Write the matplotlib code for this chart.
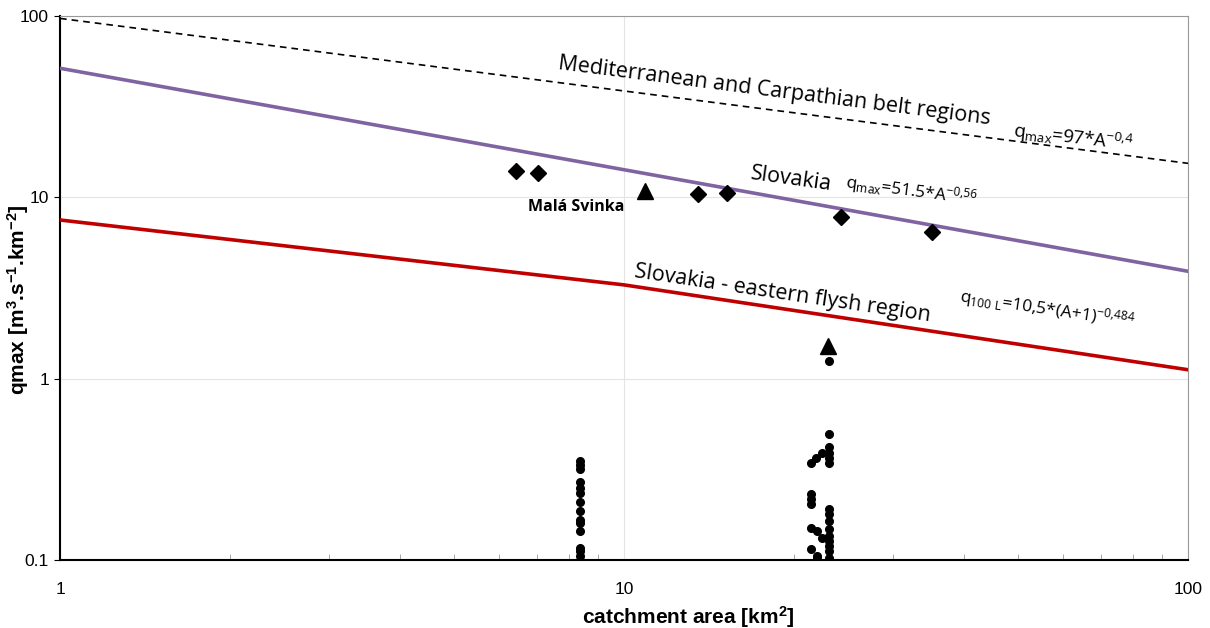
import matplotlib.pyplot as plt
from matplotlib.ticker import FixedLocator, NullFormatter, LogLocator

plt.rcParams['font.family'] = ['Liberation Sans', 'DejaVu Sans']
plt.rcParams['mathtext.default'] = 'regular'

# envelope curves (values read at A = 1, 10, 100)
line_x = [1, 10, 100]
med_carp = [97.0, 38.6, 15.4]      # qmax = 97*A^-0.4
slovakia = [51.5, 14.2, 3.91]      # qmax = 51.5*A^-0.56
east_flysch = [7.5, 3.29, 1.12]    # q100 = 10.5*(A+1)^-0.484

# observed peak flows
diamond_x = [6.44, 7.04, 13.5, 15.2, 24.3, 35.2]
diamond_y = [13.9, 13.6, 10.4, 10.5, 7.75, 6.4]
triangle_x = [10.9, 23.0]
triangle_y = [10.9, 1.52]

dots_a_x = [8.35] * 14
dots_a_y = [0.352, 0.335, 0.318, 0.270, 0.250, 0.235, 0.209, 0.187,
            0.166, 0.160, 0.145, 0.116, 0.112, 0.105]
dots_b_x = [23.1] * 15 + [22.4, 21.9, 21.5, 21.5, 21.5, 21.5, 21.5, 22.0,
                          22.4, 21.5, 22.0, 22.0]
dots_b_y = [1.25, 0.497, 0.421, 0.390, 0.366, 0.343, 0.191, 0.180, 0.164,
            0.148, 0.136, 0.127, 0.119, 0.112, 0.103,
            0.390, 0.366, 0.343, 0.231, 0.217, 0.204, 0.150, 0.145,
            0.132, 0.115, 0.105, 0.104]

fig = plt.figure(figsize=(12.1, 6.28), dpi=100)
ax = fig.add_axes([0.0496, 0.1083, 0.9322, 0.8662])

ax.plot(line_x, med_carp, color='black', lw=1.2, ls=(0, (4, 3)), zorder=3)
ax.plot(line_x, slovakia, color='#8064A2', lw=2.6, zorder=3)
ax.plot(line_x, east_flysch, color='#C00000', lw=2.6, zorder=3)

ax.plot(diamond_x, diamond_y, 'D', color='black', ms=8, ls='none', zorder=4)
ax.plot(triangle_x, triangle_y, '^', color='black', ms=11, ls='none', zorder=4)
ax.plot(dots_a_x, dots_a_y, 'o', color='black', ms=5.5, ls='none', zorder=4)
ax.plot(dots_b_x, dots_b_y, 'o', color='black', ms=5.5, ls='none', zorder=4)

ax.set_xscale('log')
ax.set_yscale('log')
ax.set_xlim(1, 100)
ax.set_ylim(0.1, 100)

ax.xaxis.set_major_locator(FixedLocator([1, 10, 100]))
ax.xaxis.set_minor_locator(LogLocator(base=10, subs=range(2, 10)))
ax.xaxis.set_minor_formatter(NullFormatter())
ax.set_xticklabels(['1', '10', '100'])
ax.yaxis.set_major_locator(FixedLocator([0.1, 1, 10, 100]))
ax.yaxis.set_minor_locator(FixedLocator([]))
ax.set_yticklabels(['0.1', '1', '10', '100'])

ax.tick_params(axis='x', which='major', direction='in', length=0, pad=16, labelsize=12.5)
ax.tick_params(axis='x', which='minor', direction='in', length=4, color='#999999')
ax.tick_params(axis='y', which='major', direction='out', length=4, pad=4, labelsize=12.5)

ax.grid(True, which='major', color='#e4e4e4', lw=0.8)
for s in ['top', 'right']:
    ax.spines[s].set_color('#999999')
for s in ['left', 'bottom']:
    ax.spines[s].set_color('black')
    ax.spines[s].set_linewidth(1.5)

ax.set_xlabel('catchment area [km$^{2}$]', fontsize=15, fontweight='bold')
ax.xaxis.set_label_coords(0.557, -0.105)
ax.xaxis.label.set_va('center')
ax.set_ylabel('qmax [m$^{3}$.s$^{-1}$.km$^{-2}$]', fontsize=15, fontweight='bold')
ax.yaxis.set_label_coords(-0.037, 0.478)
ax.yaxis.label.set_va('center')

tf = dict(family=['Open Sans', 'DejaVu Sans'], rotation_mode='anchor', transform=ax.transAxes)
ax.text(0.441, 0.903, 'Mediterranean and Carpathian belt regions', fontsize=15.5, rotation=-7.3, **tf)
ax.text(0.845, 0.778, 'q$_{max}$=97*A$^{-0{,}4}$', fontsize=13.5, rotation=-6.5, **tf)
ax.text(0.612, 0.700, 'Slovakia', fontsize=15.5, rotation=-8, **tf)
ax.text(0.696, 0.684, 'q$_{max}$=51.5*A$^{-0{,}56}$', fontsize=12.5, rotation=-7.5, **tf)
ax.text(0.509, 0.520, 'Slovakia - eastern flysh region', fontsize=15.5, rotation=-8.5, **tf)
ax.text(0.797, 0.475, 'q$_{100\\ L}$=10,5*(A+1)$^{-0{,}484}$', fontsize=12.5, rotation=-8.5, **tf)
ax.text(0.415, 0.641, 'Malá Svinka', fontsize=11.5, fontweight='bold',
        family=['Open Sans', 'DejaVu Sans'], transform=ax.transAxes)

fig.savefig('out.png', dpi=100)
